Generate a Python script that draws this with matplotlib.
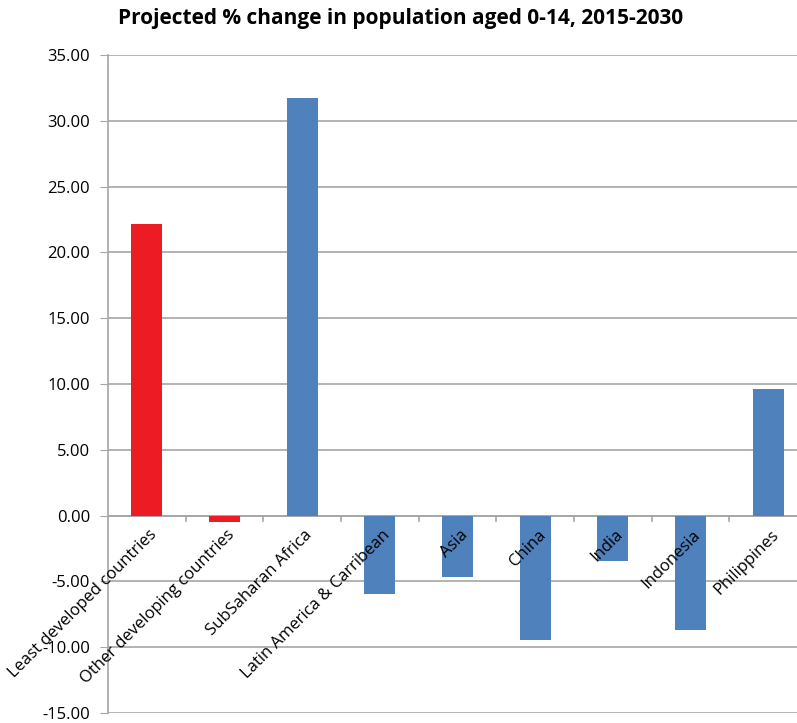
import matplotlib.pyplot as plt
import numpy as np

categories = [
    "Least developed countries",
    "Other developing countries",
    "SubSaharan Africa",
    "Latin America & Carribean",
    "Asia",
    "China",
    "India",
    "Indonesia",
    "Philippines",
]
values = [22.15, -0.48, 31.7, -5.95, -4.7, -9.45, -3.45, -8.7, 9.6]
bar_colors = ["#ED1C24", "#ED1C24"] + ["#4F81BD"] * 7
y_ticks = [-15, -10, -5, 0, 5, 10, 15, 20, 25, 30, 35]

plt.rcParams["font.family"] = ["Open Sans", "DejaVu Sans"]

fig = plt.figure(figsize=(7.97, 7.23), dpi=100)
W, H = 797, 723
ax = fig.add_axes([108 / W, 10 / H, 699 / W, 658 / H])

x = np.arange(len(categories))
ax.bar(x, values, width=0.4, color=bar_colors, zorder=3)

ax.set_xlim(-0.5, len(categories) - 0.5)
ax.set_ylim(-15, 35)
ax.set_yticks(y_ticks)
ax.set_yticklabels([f"{v:.2f}" for v in y_ticks], fontsize=12)
ax.yaxis.grid(True, color="#A6A6A6", linewidth=1.2, zorder=0)
ax.tick_params(axis="y", length=6, color="#A6A6A6", pad=7)

for side in ["top", "right", "bottom"]:
    ax.spines[side].set_visible(False)
ax.spines["left"].set_color("#A6A6A6")
ax.spines["left"].set_linewidth(1.2)

# zero line with category boundary ticks
ax.axhline(0, color="#A6A6A6", linewidth=1.2, zorder=2)
ax.set_xticks([])
for b in np.arange(0.5, len(categories) - 0.5, 1.0):
    ax.plot([b, b], [0, -0.4], color="#A6A6A6", linewidth=1.2, zorder=2, clip_on=False)

for i, label in enumerate(categories):
    ax.text(i + 0.03, -0.85, label, rotation=45, ha="right", va="top",
            rotation_mode="anchor", fontsize=12, zorder=4)

fig.text(0.503, 0.975, "Projected % change in population aged 0-14, 2015-2030",
         ha="center", va="center", fontsize=15, fontweight="bold")

fig.savefig("out.png", dpi=100, facecolor="white")
